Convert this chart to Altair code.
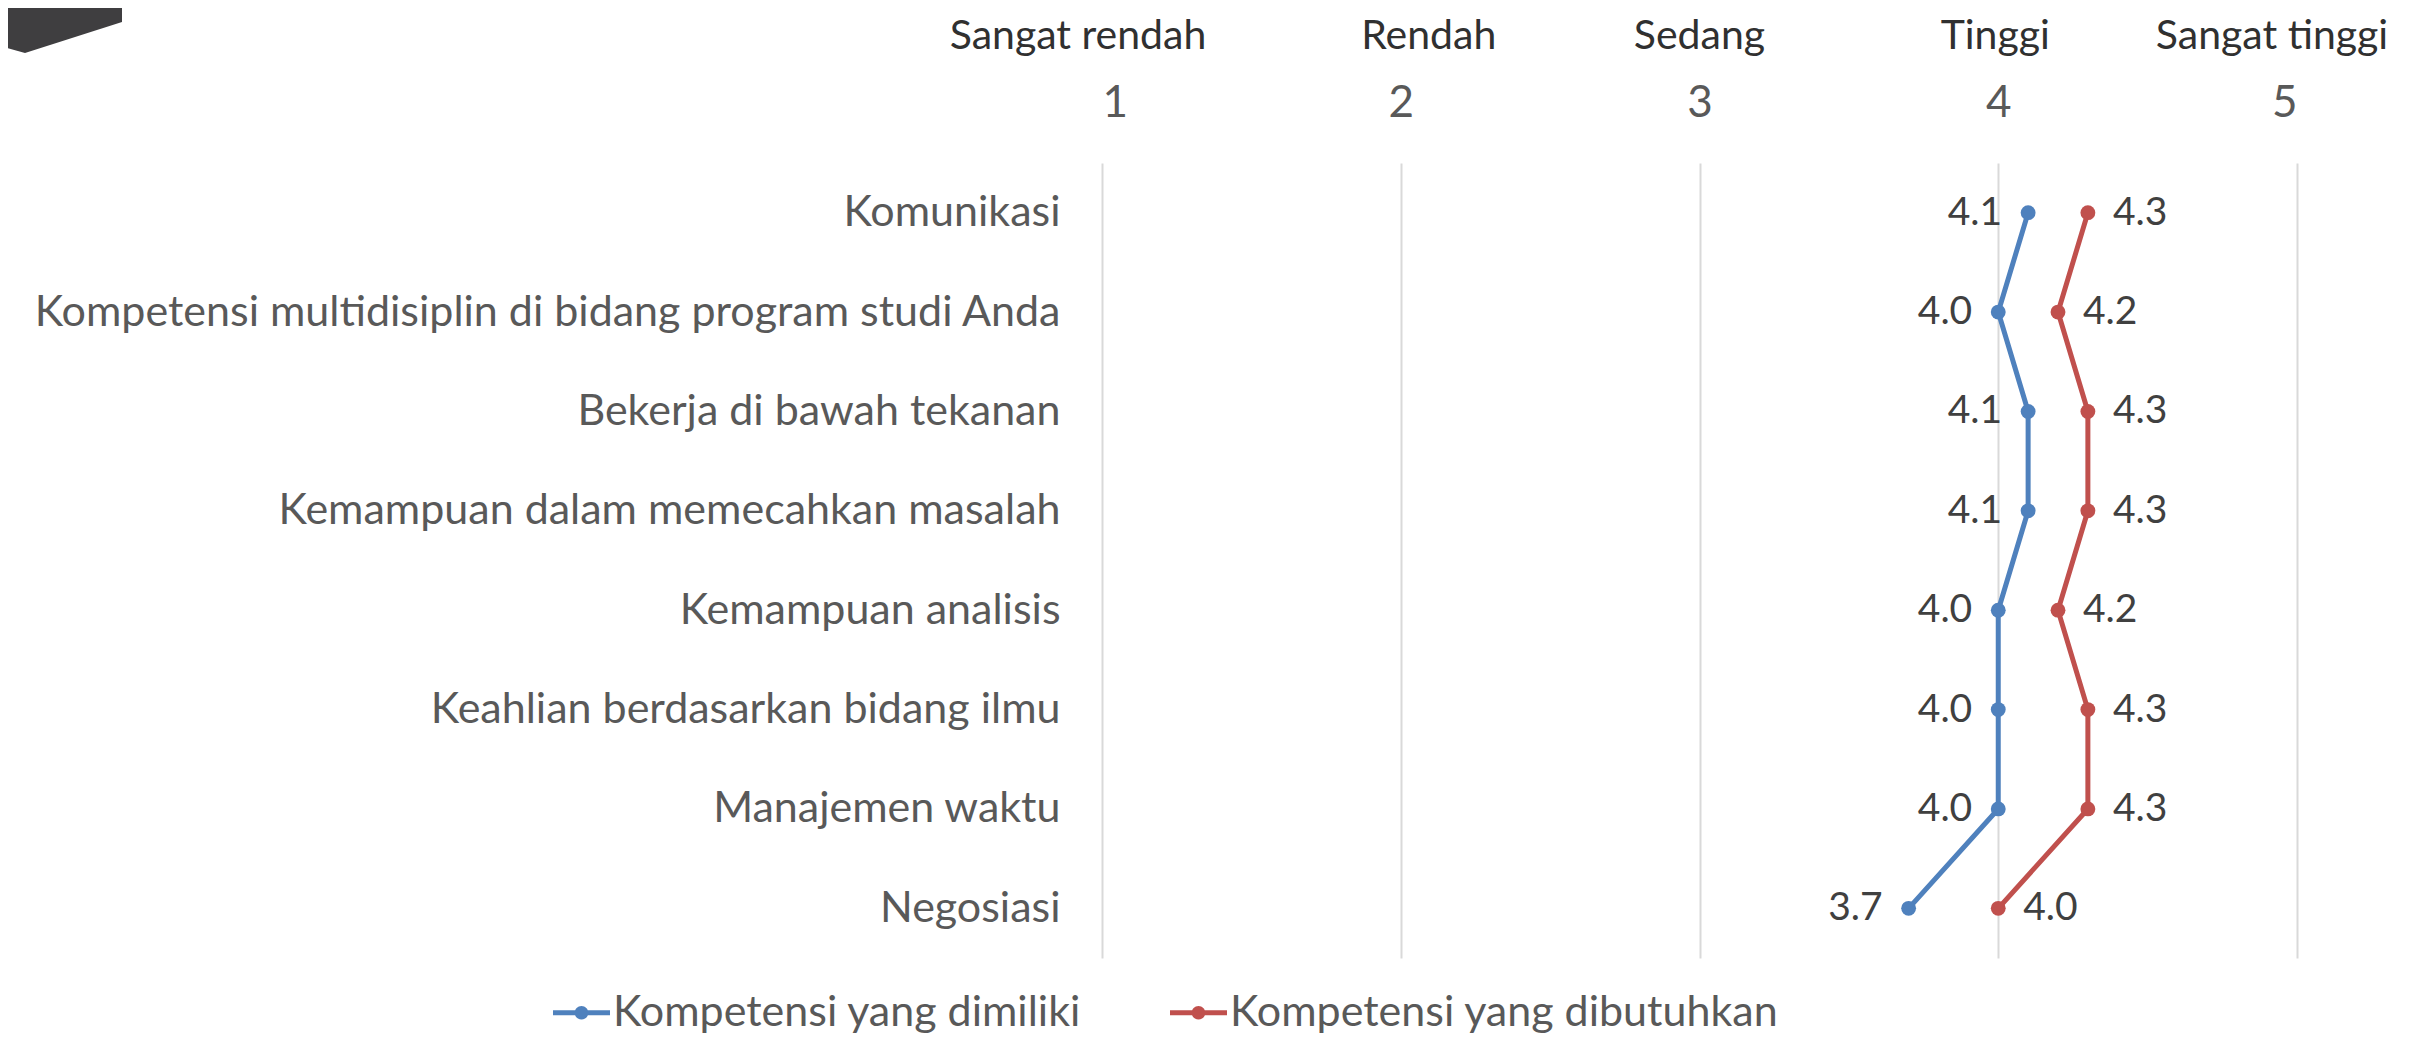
import altair as alt
import pandas as pd

# ---- data ----
kompetensi = [
    "Komunikasi",
    "Kompetensi multidisiplin di bidang program studi Anda",
    "Bekerja di bawah tekanan",
    "Kemampuan dalam memecahkan masalah",
    "Kemampuan analisis",
    "Keahlian berdasarkan bidang ilmu",
    "Manajemen waktu",
    "Negosiasi",
]
dimiliki = [4.1, 4.0, 4.1, 4.1, 4.0, 4.0, 4.0, 3.7]
dibutuhkan = [4.3, 4.2, 4.3, 4.3, 4.2, 4.3, 4.3, 4.0]
series = ["Kompetensi yang dimiliki", "Kompetensi yang dibutuhkan"]
skala_nilai = [1, 2, 3, 4, 5]
skala_nama = ["Sangat rendah", "Rendah", "Sedang", "Tinggi", "Sangat tinggi"]

# style only: horizontal nudge (px) of each scale name, as placed in the original
nama_dx = [-24, 28, 0, -3, -25]

colors = ["#4f81bd", "#c0504d"]
FONT = "Lato"
GRAY = "#595959"

rows = []
for i, k in enumerate(kompetensi):
    rows.append({"kompetensi": k, "idx": i, "seri": series[0], "nilai": dimiliki[i]})
    rows.append({"kompetensi": k, "idx": i, "seri": series[1], "nilai": dibutuhkan[i]})
df = pd.DataFrame(rows)
df_scale = pd.DataFrame({"nilai": skala_nilai, "nama": skala_nama})

W, H = 1195, 795

xscale = alt.Scale(domain=[1, 5], nice=False, zero=False)
yscale = alt.Scale(domain=kompetensi, padding=0.5)
cscale = alt.Scale(domain=series, range=colors)

x_enc = alt.X(
    "nilai:Q",
    scale=xscale,
    axis=alt.Axis(
        orient="top", values=skala_nilai, format="d", title=None,
        grid=True, gridColor="#d9d9d9", gridWidth=2,
        domain=False, ticks=False, tickSize=0,
        labelFontSize=44, labelColor=GRAY, labelFont=FONT,
        labelBaseline="middle", labelPadding=60,
    ),
)
y_enc = alt.Y(
    "kompetensi:N",
    scale=yscale,
    sort=kompetensi,
    axis=alt.Axis(
        title=None, domain=False, ticks=False, grid=False, labelLimit=3000,
        labelFontSize=43, labelColor=GRAY, labelFont=FONT, labelPadding=42,
    ),
)

base = alt.Chart(df)

line_layers = [
    base.transform_filter(alt.datum.seri == s).mark_line(strokeWidth=5, color=c).encode(
        x=x_enc, y=y_enc, order="idx:Q"
    )
    for s, c in zip(series, colors)
]

legend_path = ("M-1,-0.088H1V0.088H-1Z "
               "M0.24,0A0.24,0.24,0,1,1,-0.24,0A0.24,0.24,0,1,1,0.24,0Z")

points = base.mark_point(filled=True, size=220, opacity=1).encode(
    x=x_enc, y=y_enc,
    color=alt.Color(
        "seri:N", scale=cscale,
        legend=alt.Legend(
            title=None, orient="none", direction="horizontal",
            legendX=-549, legendY=821,
            symbolType=legend_path, symbolSize=3249, symbolStrokeWidth=0,
            symbolOpacity=1, labelLimit=3000,
            labelFontSize=43, labelColor=GRAY, labelFont=FONT,
            labelOffset=3, columnPadding=88,
        ),
    ),
)

lbl_blue = base.transform_filter(alt.datum.seri == series[0]).mark_text(
    align="right", baseline="middle", dx=-26, fontSize=39, font=FONT, color="#404040"
).encode(x=x_enc, y=y_enc, text=alt.Text("nilai:Q", format=".1f"))

lbl_red = base.transform_filter(alt.datum.seri == series[1]).mark_text(
    align="left", baseline="middle", dx=25, fontSize=39, font=FONT, color="#404040"
).encode(x=x_enc, y=y_enc, text=alt.Text("nilai:Q", format=".1f"))

name_layers = [
    alt.Chart(df_scale).transform_filter(alt.datum.nama == n).mark_text(
        align="center", baseline="middle", fontSize=41, font=FONT, color="#303030", dx=d
    ).encode(
        x=alt.X("nilai:Q", scale=xscale),
        y=alt.value(-126),
        text="nama:N",
    )
    for n, d in zip(skala_nama, nama_dx)
]

corner_path = "M-1,-0.434L1,-0.434L1,-0.074L-0.59,0.434L-1,0.32Z"
corner = alt.Chart(df_scale.head(1)).mark_point(
    shape=corner_path, filled=True, size=14884, color="#3f3e40", opacity=1
).encode(x=alt.value(-1041), y=alt.value(-136.5))

chart = alt.layer(*line_layers, points, lbl_blue, lbl_red, *name_layers, corner).properties(
    width=W, height=H,
    autosize=alt.AutoSizeParams(type="none"),
    padding={"left": 1094, "top": 155, "right": 115, "bottom": 77},
).configure(background="white").configure_view(strokeWidth=0)

chart.save("out.html", embed_options={"renderer": "svg", "actions": False})
